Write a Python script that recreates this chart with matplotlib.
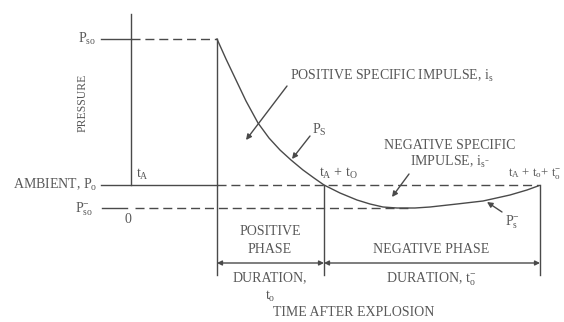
import matplotlib
matplotlib.use("Agg")
import matplotlib.pyplot as plt

plt.rcParams['font.family'] = ['Liberation Serif', 'DejaVu Serif']
plt.rcParams['mathtext.fontset'] = 'custom'
plt.rcParams['mathtext.rm'] = 'Liberation Serif'
plt.rcParams['mathtext.it'] = 'Liberation Serif:italic'

# Pressure-time history (pixel-space schematic)
curve_t = [217, 226, 236, 246, 258, 269, 280, 291, 303, 314, 324,
           340, 357, 370, 383, 397, 415, 430, 457, 483, 510, 527, 538]
curve_p = [39, 59, 80, 101, 123, 138, 150, 160, 170, 178, 185,
           193, 200, 204, 207, 208, 208, 207, 204, 201, 195, 190, 186]

t_axis = 131      # pressure axis / time zero
t_arrival = 217   # t_A
t_pos_end = 324   # t_A + t_o
t_neg_end = 540   # t_A + t_o + t_o-
p_so = 39
p_amb = 185
p_neg = 208
y_bottom = 275
y_arrow = 263

INK = '#4a4a4a'
TXT = '#585858'

fig = plt.figure(figsize=(5.64, 3.22), dpi=100)
ax = fig.add_axes([0, 0, 1, 1])
ax.set_xlim(0, 564)
ax.set_ylim(322, 0)
ax.axis('off')

lw = 1.0
dash = (0, (6.5, 3.5))

# vertical lines
ax.plot([t_axis, t_axis], [14, p_amb], color=INK, lw=lw)
ax.plot([t_arrival, t_arrival], [p_so, y_bottom], color=INK, lw=lw)
ax.plot([t_pos_end, t_pos_end], [p_amb, y_bottom], color=INK, lw=lw)
ax.plot([t_neg_end, t_neg_end], [p_amb, y_bottom], color=INK, lw=lw)

# Pso
ax.plot([101, t_axis], [p_so, p_so], color=INK, lw=lw)
ax.plot([t_axis, t_arrival], [p_so, p_so], color=INK, lw=lw, linestyle=dash)
# ambient
ax.plot([101, t_arrival], [p_amb, p_amb], color=INK, lw=lw)
ax.plot([t_arrival, t_neg_end], [p_amb, p_amb], color=INK, lw=lw, linestyle=dash)
# Pso-
ax.plot([102, 127], [p_neg, p_neg], color=INK, lw=lw)
ax.plot([135, 410], [p_neg, p_neg], color=INK, lw=lw, linestyle=dash)

# curve
ax.plot(curve_t, curve_p, color=INK, lw=lw, solid_joinstyle='round')

# duration arrows
arr = dict(arrowstyle='<|-|>', color=INK, lw=lw, mutation_scale=7, shrinkA=0, shrinkB=0)
ax.annotate('', xy=(t_arrival, y_arrow), xytext=(t_pos_end, y_arrow), arrowprops=arr)
ax.annotate('', xy=(t_pos_end, y_arrow), xytext=(t_neg_end, y_arrow), arrowprops=arr)

# pointer arrows
parr = dict(arrowstyle='-|>', color=INK, lw=lw, mutation_scale=8, shrinkA=0, shrinkB=0)
ax.annotate('', xy=(246, 140), xytext=(287, 86), arrowprops=parr)
ax.annotate('', xy=(292, 159), xytext=(310, 136), arrowprops=parr)
ax.annotate('', xy=(392, 197), xytext=(409, 174), arrowprops=parr)
ax.annotate('', xy=(487, 202), xytext=(502, 212), arrowprops=parr)

fs = 10
kw = dict(color=TXT, fontsize=fs)
ax.text(96, p_so, r'P$_{\mathrm{so}}$', ha='right', va='center', **kw)
ax.text(97, p_amb, r'AMBIENT, P$_{\mathrm{o}}$', ha='right', va='center', **kw)
ax.text(93, p_neg + 1, r'P$_{\mathrm{so}}^{-}$', ha='right', va='center', **kw)
ax.text(128, 219, '0', ha='center', va='center', **kw)
ax.text(136, 174, r't$_{\mathrm{A}}$', ha='left', va='center', **kw)
ax.text(83, 103, 'PRESSURE', rotation=90, ha='center', va='center',
        color=TXT, fontsize=8.5)

ax.text(290, 76, r'POSITIVE SPECIFIC IMPULSE, i$_{\mathrm{s}}$', ha='left', va='center', **kw)
ax.text(312, 130, r'P$_{\mathrm{S}}$', ha='left', va='center', **kw)
ax.text(450, 145, 'NEGATIVE SPECIFIC', ha='center', va='center', **kw)
ax.text(450, 162, r'IMPULSE, i$_{\mathrm{s}^{-}}$', ha='center', va='center', **kw)
ax.text(319, 173, r't$_{\mathrm{A}}$ + t$_{\mathrm{O}}$', ha='left', va='center', **kw)
ax.text(508, 173, r't$_{\mathrm{A}}$ + t$_{\mathrm{o}}$+ t$_{\mathrm{o}}^{-}$', ha='left', va='center',
        color=TXT, fontsize=9.3)
ax.text(505, 222, r'P$_{\mathrm{s}}^{-}$', ha='left', va='center', **kw)

ax.text(270, 231, 'POSITIVE', ha='center', va='center', **kw)
ax.text(270, 249, 'PHASE', ha='center', va='center', **kw)
ax.text(431, 249, 'NEGATIVE PHASE', ha='center', va='center', **kw)
ax.text(270, 278, 'DURATION,', ha='center', va='center', **kw)
ax.text(270, 296, r't$_{\mathrm{o}}$', ha='center', va='center', **kw)
ax.text(431, 279, r'DURATION, t$_{\mathrm{o}}^{-}$', ha='center', va='center', **kw)
ax.text(354, 313, 'TIME AFTER EXPLOSION', ha='center', va='center', **kw)

fig.savefig('out.png', dpi=100)
